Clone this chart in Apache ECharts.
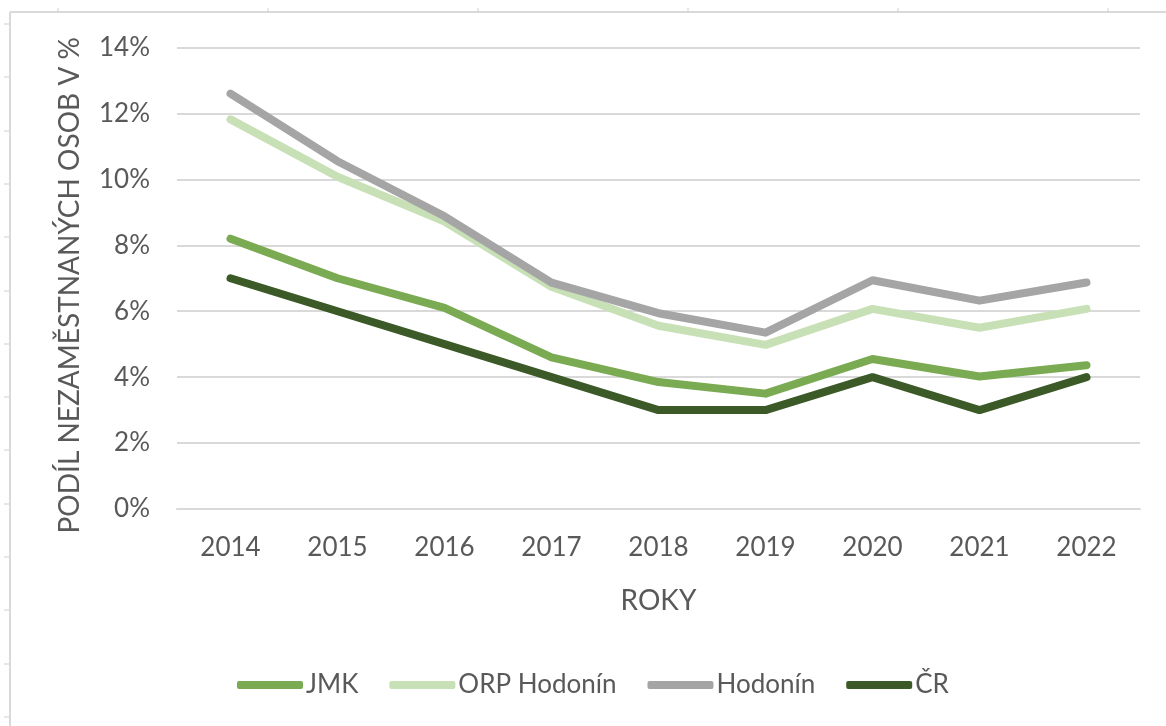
<!DOCTYPE html>
<html>
<head>
<meta charset="utf-8">
<script src="https://cdn.jsdelivr.net/npm/echarts@6/dist/echarts.min.js"></script>
<style>
  html, body { margin: 0; padding: 0; background: #fff; }
  #chart { width: 1166px; height: 726px; }
</style>
</head>
<body>
<div id="chart"></div>
<script>
// roky
const years = ['2014', '2015', '2016', '2017', '2018', '2019', '2020', '2021', '2022'];
// podíl nezaměstnaných osob v %
const jmk = [8.2, 7.0, 6.1, 4.6, 3.85, 3.5, 4.55, 4.02, 4.36];
const orpHodonin = [11.82, 10.08, 8.72, 6.74, 5.56, 4.98, 6.07, 5.5, 6.07];
const hodonin = [12.6, 10.55, 8.88, 6.87, 5.94, 5.35, 6.94, 6.32, 6.87];
const cr = [7.0, 6.0, 5.0, 4.0, 3.0, 3.0, 4.0, 3.0, 4.0];
const yTicks = [0, 2, 4, 6, 8, 10, 12, 14];

const textColor = '#595959';
const font = 'Lato, "Open Sans", sans-serif';

function line(name, data, color) {
  return {
    name: name,
    type: 'line',
    data: data,
    symbol: 'none',
    color: color,
    lineStyle: {width: 8, color: color, cap: 'round', join: 'round'},
    emphasis: {disabled: true}
  };
}

// okraj a pravítko kolem výřezu
const frame = [
  {type: 'line', shape: {x1: 10, y1: 12, x2: 1166, y2: 12}, style: {stroke: '#d9d9d9', lineWidth: 2}},
  {type: 'line', shape: {x1: 10, y1: 12, x2: 10, y2: 726}, style: {stroke: '#d9d9d9', lineWidth: 2}}
];
for (let y = 24; y < 726; y += 53.3) {
  frame.push({type: 'line', shape: {x1: 4, y1: Math.round(y), x2: 9, y2: Math.round(y)}, style: {stroke: '#cfcfcf', lineWidth: 1}});
}
for (let x = 58; x < 1166; x += 210) {
  frame.push({type: 'line', shape: {x1: Math.round(x), y1: 8, x2: Math.round(x), y2: 12}, style: {stroke: '#cfcfcf', lineWidth: 1}});
}

let chart = echarts.init(document.getElementById('chart'));
chart.setOption({
  animation: false,
  backgroundColor: '#fff',
  textStyle: {fontFamily: font},
  graphic: frame,
  grid: {left: 177, right: 26, top: 47.5, bottom: 217, containLabel: false},
  legend: {
    left: 232,
    top: 667,
    itemWidth: 66,
    itemHeight: 8,
    itemGap: 31,
    icon: 'roundRect',
    textStyle: {color: textColor, fontSize: 26, fontFamily: font, padding: [0, 0, 0, -2]},
    data: ['JMK', 'ORP Hodonín', 'Hodonín', 'ČR']
  },
  xAxis: {
    type: 'category',
    data: years,
    boundaryGap: true,
    name: 'ROKY',
    nameLocation: 'middle',
    nameGap: 78,
    nameTextStyle: {color: textColor, fontSize: 28, fontFamily: font},
    axisLine: {show: true, lineStyle: {color: '#d9d9d9', width: 2}},
    axisTick: {show: false},
    axisLabel: {color: textColor, fontSize: 26, fontFamily: font, margin: 26}
  },
  yAxis: {
    type: 'value',
    min: yTicks[0],
    max: yTicks[yTicks.length - 1],
    interval: 2,
    name: 'PODÍL NEZAMĚSTNANÝCH OSOB V %',
    nameLocation: 'middle',
    nameGap: 93,
    nameRotate: 90,
    nameTextStyle: {color: textColor, fontSize: 28, fontFamily: font, padding: [0, 14, 0, 0]},
    axisLine: {show: false},
    axisTick: {show: false},
    splitLine: {lineStyle: {color: '#d9d9d9', width: 2}},
    axisLabel: {color: textColor, fontSize: 26, fontFamily: font, margin: 27, formatter: '{value}%'}
  },
  series: [
    line('JMK', jmk, '#7aab52'),
    line('ORP Hodonín', orpHodonin, '#c8e0b6'),
    line('Hodonín', hodonin, '#a5a5a5'),
    line('ČR', cr, '#3c5a28')
  ]
});
</script>
</body>
</html>
